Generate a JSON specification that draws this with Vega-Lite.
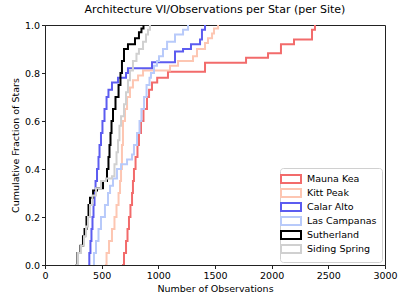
{
  "$schema": "https://vega.github.io/schema/vega-lite/v6.json",
  "width": 340,
  "height": 240,
  "autosize": "none",
  "padding": {"left": 45, "top": 25, "right": 22, "bottom": 40},
  "background": "white",
  "title": {"text": "Architecture VI/Observations per Star (per Site)", "font": "DejaVu Sans", "fontSize": 11, "fontWeight": "normal", "color": "black", "offset": 5},
  "config": {
    "view": {"stroke": "#222", "strokeWidth": 1},
    "axis": {"labelFont": "DejaVu Sans", "titleFont": "DejaVu Sans", "labelFontSize": 9.5, "titleFontSize": 9.5, "titleFontWeight": "normal", "labelColor": "black", "titleColor": "black", "domainColor": "#222", "tickColor": "#222", "tickSize": 3.5, "grid": false}
  },
  "data": {"values": [
    {"site": "Mauna Kea", "obs": 680, "frac": 0},
    {"site": "Mauna Kea", "obs": 697, "frac": 0.05},
    {"site": "Mauna Kea", "obs": 715, "frac": 0.1},
    {"site": "Mauna Kea", "obs": 728, "frac": 0.15},
    {"site": "Mauna Kea", "obs": 741, "frac": 0.2},
    {"site": "Mauna Kea", "obs": 754, "frac": 0.25},
    {"site": "Mauna Kea", "obs": 768, "frac": 0.3},
    {"site": "Mauna Kea", "obs": 776, "frac": 0.35},
    {"site": "Mauna Kea", "obs": 785, "frac": 0.4},
    {"site": "Mauna Kea", "obs": 799, "frac": 0.45},
    {"site": "Mauna Kea", "obs": 816, "frac": 0.5},
    {"site": "Mauna Kea", "obs": 829, "frac": 0.55},
    {"site": "Mauna Kea", "obs": 847, "frac": 0.6},
    {"site": "Mauna Kea", "obs": 869, "frac": 0.65},
    {"site": "Mauna Kea", "obs": 900, "frac": 0.7},
    {"site": "Mauna Kea", "obs": 918, "frac": 0.73},
    {"site": "Mauna Kea", "obs": 944, "frac": 0.76},
    {"site": "Mauna Kea", "obs": 990, "frac": 0.78},
    {"site": "Mauna Kea", "obs": 1085, "frac": 0.805},
    {"site": "Mauna Kea", "obs": 1412, "frac": 0.843},
    {"site": "Mauna Kea", "obs": 1774, "frac": 0.864},
    {"site": "Mauna Kea", "obs": 1968, "frac": 0.882},
    {"site": "Mauna Kea", "obs": 2082, "frac": 0.92},
    {"site": "Mauna Kea", "obs": 2197, "frac": 0.94},
    {"site": "Mauna Kea", "obs": 2356, "frac": 0.98},
    {"site": "Mauna Kea", "obs": 2382, "frac": 1.0},

    {"site": "Kitt Peak", "obs": 529, "frac": 0},
    {"site": "Kitt Peak", "obs": 543, "frac": 0.05},
    {"site": "Kitt Peak", "obs": 565, "frac": 0.1},
    {"site": "Kitt Peak", "obs": 591, "frac": 0.15},
    {"site": "Kitt Peak", "obs": 613, "frac": 0.2},
    {"site": "Kitt Peak", "obs": 631, "frac": 0.25},
    {"site": "Kitt Peak", "obs": 649, "frac": 0.3},
    {"site": "Kitt Peak", "obs": 662, "frac": 0.35},
    {"site": "Kitt Peak", "obs": 671, "frac": 0.4},
    {"site": "Kitt Peak", "obs": 679, "frac": 0.5},
    {"site": "Kitt Peak", "obs": 688, "frac": 0.6},
    {"site": "Kitt Peak", "obs": 706, "frac": 0.65},
    {"site": "Kitt Peak", "obs": 724, "frac": 0.7},
    {"site": "Kitt Peak", "obs": 750, "frac": 0.74},
    {"site": "Kitt Peak", "obs": 776, "frac": 0.77},
    {"site": "Kitt Peak", "obs": 821, "frac": 0.79},
    {"site": "Kitt Peak", "obs": 865, "frac": 0.81},
    {"site": "Kitt Peak", "obs": 1103, "frac": 0.83},
    {"site": "Kitt Peak", "obs": 1174, "frac": 0.85},
    {"site": "Kitt Peak", "obs": 1306, "frac": 0.87},
    {"site": "Kitt Peak", "obs": 1341, "frac": 0.9},
    {"site": "Kitt Peak", "obs": 1412, "frac": 0.925},
    {"site": "Kitt Peak", "obs": 1438, "frac": 0.945},
    {"site": "Kitt Peak", "obs": 1474, "frac": 0.965},
    {"site": "Kitt Peak", "obs": 1491, "frac": 0.985},
    {"site": "Kitt Peak", "obs": 1527, "frac": 1.0},

    {"site": "Calar Alto", "obs": 382, "frac": 0},
    {"site": "Calar Alto", "obs": 391, "frac": 0.05},
    {"site": "Calar Alto", "obs": 401, "frac": 0.1},
    {"site": "Calar Alto", "obs": 410, "frac": 0.15},
    {"site": "Calar Alto", "obs": 419, "frac": 0.2},
    {"site": "Calar Alto", "obs": 428, "frac": 0.25},
    {"site": "Calar Alto", "obs": 437, "frac": 0.3},
    {"site": "Calar Alto", "obs": 446, "frac": 0.35},
    {"site": "Calar Alto", "obs": 459, "frac": 0.4},
    {"site": "Calar Alto", "obs": 472, "frac": 0.45},
    {"site": "Calar Alto", "obs": 481, "frac": 0.5},
    {"site": "Calar Alto", "obs": 494, "frac": 0.55},
    {"site": "Calar Alto", "obs": 507, "frac": 0.6},
    {"site": "Calar Alto", "obs": 525, "frac": 0.65},
    {"site": "Calar Alto", "obs": 543, "frac": 0.7},
    {"site": "Calar Alto", "obs": 560, "frac": 0.73},
    {"site": "Calar Alto", "obs": 591, "frac": 0.76},
    {"site": "Calar Alto", "obs": 644, "frac": 0.78},
    {"site": "Calar Alto", "obs": 715, "frac": 0.8},
    {"site": "Calar Alto", "obs": 732, "frac": 0.82},
    {"site": "Calar Alto", "obs": 944, "frac": 0.845},
    {"site": "Calar Alto", "obs": 1147, "frac": 0.89},
    {"site": "Calar Alto", "obs": 1218, "frac": 0.9},
    {"site": "Calar Alto", "obs": 1288, "frac": 0.92},
    {"site": "Calar Alto", "obs": 1368, "frac": 0.94},
    {"site": "Calar Alto", "obs": 1385, "frac": 0.98},
    {"site": "Calar Alto", "obs": 1412, "frac": 1.0},

    {"site": "Las Campanas", "obs": 424, "frac": 0},
    {"site": "Las Campanas", "obs": 432, "frac": 0.05},
    {"site": "Las Campanas", "obs": 450, "frac": 0.1},
    {"site": "Las Campanas", "obs": 472, "frac": 0.15},
    {"site": "Las Campanas", "obs": 494, "frac": 0.2},
    {"site": "Las Campanas", "obs": 529, "frac": 0.25},
    {"site": "Las Campanas", "obs": 556, "frac": 0.3},
    {"site": "Las Campanas", "obs": 574, "frac": 0.33},
    {"site": "Las Campanas", "obs": 600, "frac": 0.36},
    {"site": "Las Campanas", "obs": 635, "frac": 0.4},
    {"site": "Las Campanas", "obs": 671, "frac": 0.42},
    {"site": "Las Campanas", "obs": 724, "frac": 0.44},
    {"site": "Las Campanas", "obs": 768, "frac": 0.46},
    {"site": "Las Campanas", "obs": 785, "frac": 0.5},
    {"site": "Las Campanas", "obs": 812, "frac": 0.55},
    {"site": "Las Campanas", "obs": 834, "frac": 0.6},
    {"site": "Las Campanas", "obs": 851, "frac": 0.65},
    {"site": "Las Campanas", "obs": 874, "frac": 0.7},
    {"site": "Las Campanas", "obs": 896, "frac": 0.75},
    {"site": "Las Campanas", "obs": 922, "frac": 0.78},
    {"site": "Las Campanas", "obs": 935, "frac": 0.8},
    {"site": "Las Campanas", "obs": 962, "frac": 0.83},
    {"site": "Las Campanas", "obs": 988, "frac": 0.85},
    {"site": "Las Campanas", "obs": 1006, "frac": 0.87},
    {"site": "Las Campanas", "obs": 1041, "frac": 0.9},
    {"site": "Las Campanas", "obs": 1077, "frac": 0.93},
    {"site": "Las Campanas", "obs": 1147, "frac": 0.96},
    {"site": "Las Campanas", "obs": 1218, "frac": 0.98},
    {"site": "Las Campanas", "obs": 1262, "frac": 1.0},

    {"site": "Sutherland", "obs": 271, "frac": 0},
    {"site": "Sutherland", "obs": 287, "frac": 0.05},
    {"site": "Sutherland", "obs": 313, "frac": 0.08},
    {"site": "Sutherland", "obs": 335, "frac": 0.12},
    {"site": "Sutherland", "obs": 349, "frac": 0.15},
    {"site": "Sutherland", "obs": 366, "frac": 0.2},
    {"site": "Sutherland", "obs": 384, "frac": 0.25},
    {"site": "Sutherland", "obs": 397, "frac": 0.28},
    {"site": "Sutherland", "obs": 424, "frac": 0.31},
    {"site": "Sutherland", "obs": 459, "frac": 0.32},
    {"site": "Sutherland", "obs": 512, "frac": 0.35},
    {"site": "Sutherland", "obs": 547, "frac": 0.4},
    {"site": "Sutherland", "obs": 560, "frac": 0.45},
    {"site": "Sutherland", "obs": 569, "frac": 0.5},
    {"site": "Sutherland", "obs": 578, "frac": 0.55},
    {"site": "Sutherland", "obs": 587, "frac": 0.6},
    {"site": "Sutherland", "obs": 600, "frac": 0.65},
    {"site": "Sutherland", "obs": 622, "frac": 0.7},
    {"site": "Sutherland", "obs": 649, "frac": 0.75},
    {"site": "Sutherland", "obs": 666, "frac": 0.8},
    {"site": "Sutherland", "obs": 679, "frac": 0.85},
    {"site": "Sutherland", "obs": 697, "frac": 0.9},
    {"site": "Sutherland", "obs": 732, "frac": 0.92},
    {"site": "Sutherland", "obs": 794, "frac": 0.945},
    {"site": "Sutherland", "obs": 829, "frac": 0.97},
    {"site": "Sutherland", "obs": 851, "frac": 0.985},
    {"site": "Sutherland", "obs": 869, "frac": 1.0},

    {"site": "Siding Spring", "obs": 274, "frac": 0},
    {"site": "Siding Spring", "obs": 291, "frac": 0.05},
    {"site": "Siding Spring", "obs": 318, "frac": 0.08},
    {"site": "Siding Spring", "obs": 344, "frac": 0.12},
    {"site": "Siding Spring", "obs": 362, "frac": 0.16},
    {"site": "Siding Spring", "obs": 379, "frac": 0.2},
    {"site": "Siding Spring", "obs": 397, "frac": 0.25},
    {"site": "Siding Spring", "obs": 419, "frac": 0.29},
    {"site": "Siding Spring", "obs": 450, "frac": 0.32},
    {"site": "Siding Spring", "obs": 494, "frac": 0.35},
    {"site": "Siding Spring", "obs": 538, "frac": 0.36},
    {"site": "Siding Spring", "obs": 591, "frac": 0.37},
    {"site": "Siding Spring", "obs": 613, "frac": 0.42},
    {"site": "Siding Spring", "obs": 631, "frac": 0.47},
    {"site": "Siding Spring", "obs": 644, "frac": 0.52},
    {"site": "Siding Spring", "obs": 657, "frac": 0.58},
    {"site": "Siding Spring", "obs": 671, "frac": 0.62},
    {"site": "Siding Spring", "obs": 697, "frac": 0.67},
    {"site": "Siding Spring", "obs": 715, "frac": 0.72},
    {"site": "Siding Spring", "obs": 732, "frac": 0.77},
    {"site": "Siding Spring", "obs": 750, "frac": 0.81},
    {"site": "Siding Spring", "obs": 776, "frac": 0.85},
    {"site": "Siding Spring", "obs": 807, "frac": 0.88},
    {"site": "Siding Spring", "obs": 829, "frac": 0.9},
    {"site": "Siding Spring", "obs": 865, "frac": 0.93},
    {"site": "Siding Spring", "obs": 891, "frac": 0.96},
    {"site": "Siding Spring", "obs": 909, "frac": 0.98},
    {"site": "Siding Spring", "obs": 926, "frac": 1.0}
  ]},
  "mark": {"type": "line", "interpolate": "step-after", "strokeWidth": 2, "clip": true},
  "encoding": {
    "x": {"field": "obs", "type": "quantitative", "scale": {"domain": [0, 3000], "nice": false}, "axis": {"values": [0, 500, 1000, 1500, 2000, 2500, 3000], "format": "d", "title": "Number of Observations", "labelFlush": false, "titlePadding": 3}},
    "y": {"field": "frac", "type": "quantitative", "scale": {"domain": [0, 1], "nice": false}, "axis": {"values": [0, 0.2, 0.4, 0.6, 0.8, 1.0], "format": ".1f", "title": "Cumulative Fraction of Stars", "labelFlush": false, "titlePadding": 4}},
    "color": {"field": "site", "type": "nominal",
      "scale": {"domain": ["Mauna Kea", "Kitt Peak", "Calar Alto", "Las Campanas", "Sutherland", "Siding Spring"],
                "range": ["#f26b6b", "#fdc6b2", "#5c5cf0", "#b8cafa", "#000000", "#d0d0d0"]},
      "legend": {"title": null, "orient": "bottom-right", "offset": 3, "padding": 5, "fillColor": "white", "strokeColor": "#d0d0d0", "cornerRadius": 3,
        "labelFont": "DejaVu Sans", "labelFontSize": 9.5, "labelColor": "black", "rowPadding": -2,
        "symbolType": "M-2,-0.8H2V0.8H-2Z", "symbolSize": 100, "symbolStrokeWidth": 2, "symbolFillColor": "white", "labelOffset": 10}
    },
    "order": {"field": "obs", "type": "quantitative"}
  }
}
